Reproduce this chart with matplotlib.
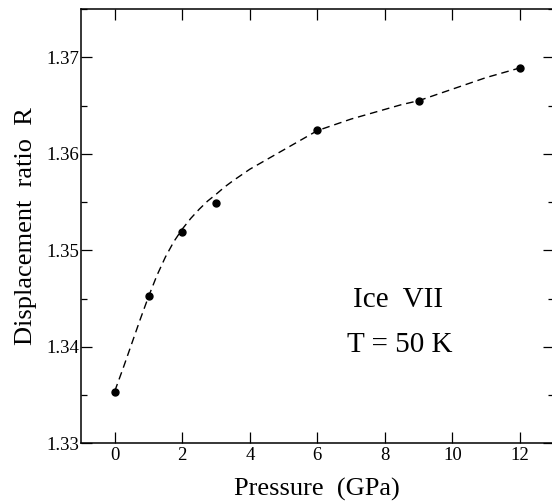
import matplotlib
matplotlib.use('Agg')
import matplotlib.pyplot as plt
from matplotlib.ticker import MultipleLocator

# measured points
pressure = [0, 1, 2, 3, 6, 9, 12]
ratio = [1.33536, 1.34530, 1.35191, 1.35495, 1.36246, 1.36544, 1.36887]

# dashed fit curve
fit_p = [0, 0.25, 0.5, 0.75, 1.0, 1.25, 1.5, 1.75, 2.0, 2.25, 2.5, 2.75,
         3.0, 3.25, 3.5, 3.75, 4.0, 4.25, 4.5, 4.75, 5.0, 5.25, 5.5, 5.75,
         6.0, 6.25, 6.5, 7.0, 7.5, 8.0, 8.5, 9.0, 9.5, 10.0, 10.5, 11.0,
         11.5, 12.0]
fit_r = [1.3354, 1.3378, 1.3403, 1.3428, 1.3452, 1.3474, 1.3493, 1.3509,
         1.3522, 1.3533, 1.35425, 1.3551, 1.3558, 1.35655, 1.3572, 1.3578,
         1.3584, 1.3589, 1.3594, 1.3599, 1.3604, 1.3609, 1.3614, 1.3619,
         1.3624, 1.3627, 1.3630, 1.3636, 1.3641, 1.3646, 1.3651, 1.3655,
         1.3661, 1.3667, 1.3673, 1.3679, 1.3684, 1.3689]

plt.rcParams['font.family'] = ['Liberation Serif', 'DejaVu Serif']

fig = plt.figure(figsize=(5.52, 5.01), dpi=100)
ax = fig.add_axes([0.1467, 0.1152, 0.8565, 0.8668])

ax.plot(fit_p, fit_r, color='black', lw=1.0, dashes=(5.5, 3.5))
ax.plot(pressure, ratio, 'o', color='black', markersize=5)

ax.set_xlim(-1, 13)
ax.set_ylim(1.33, 1.375)
ax.yaxis.set_minor_locator(MultipleLocator(0.005))
ax.set_xticks(range(0, 13, 2))
ax.set_yticks([1.33, 1.34, 1.35, 1.36, 1.37])
ax.set_yticklabels(['1.33', '1.34', '1.35', '1.36', '1.37'])

ax.tick_params(which='both', direction='in', top=True, right=True,
               labelsize=13.5, width=0.9)
ax.tick_params(which='major', length=8)
ax.tick_params(which='minor', length=4.5)
ax.tick_params(axis='y', pad=1)
ax.tick_params(axis='x', pad=3)
for s in ax.spines.values():
    s.set_linewidth(1.1)

ax.set_xlabel('Pressure  (GPa)', fontsize=19)
ax.xaxis.label.set_va('baseline')
ax.xaxis.set_label_coords(0.5, -0.121)
ax.set_ylabel('Displacement  ratio  R', fontsize=19)
ax.yaxis.label.set_va('baseline')
ax.yaxis.set_label_coords(-0.1036, 0.5)

ax.text(8.39, 1.34415, 'Ice  VII', fontsize=21, ha='center', va='baseline')
ax.text(8.45, 1.33948, 'T = 50 K', fontsize=21, ha='center', va='baseline')

fig.savefig('out.png', dpi=100)
